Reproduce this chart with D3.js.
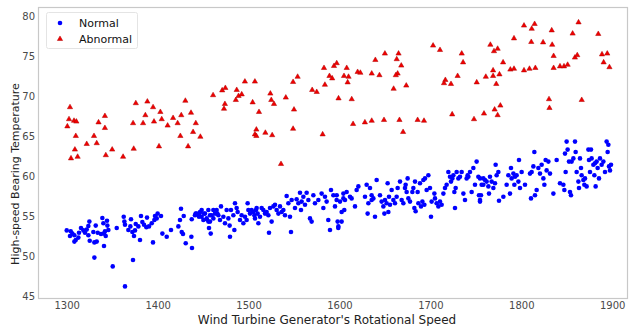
<!DOCTYPE html>
<html>
<head>
<meta charset="utf-8">
<script src="https://cdn.jsdelivr.net/npm/d3@7"></script>
<style>
  html, body { margin: 0; padding: 0; background: #fff; }
  svg { display: block; font-family: "DejaVu Sans", Verdana, sans-serif; }
</style>
</head>
<body>
<svg id="chart" width="638" height="326"></svg>
<script>
// Generator speed (rpm) and high-speed bearing temperature for normal operation
const normalSpeed = [
  1300.0,1304.4,1306.2,1303.6,1308.4,1309.9,1308.4,1312.8,1313.5,1315.7,1318.3,1320.1,1322.0,1323.8,1324.9,1323.8,1325.3,1329.3,1331.9,1330.4,
  1333.0,1334.1,1337.7,1339.2,1340.3,1341.0,1342.1,1344.3,1345.8,1342.9,1341.0,1344.7,1330.4,1350.6,1355.0,1362.7,1363.4,1364.1,1364.1,1367.8,
  1370.0,1370.7,1372.2,1375.1,1374.0,1375.9,1378.8,1380.6,1381.7,1383.2,1385.0,1387.6,1390.5,1388.3,1393.5,1396.4,1397.1,1399.0,1400.0,1403.7,
  1394.9,1372.9,1405.2,1410.0,1414.7,1422.8,1425.7,1424.6,1426.5,1427.9,1428.7,1430.9,1437.1,1437.8,1441.8,1444.8,1446.6,1448.4,
  1437.5,1441.1,1445.9,1451.0,1454.0,1457.6,1461.3,1465.7,1458.4,1455.8,
  1442.9,1445.5,1448.4,1450.3,1452.1,1453.9,1455.8,1457.6,1456.5,1459.4,1461.3,1463.1,1464.9,1466.8,1468.6,1469.7,1472.3,1474.1,1475.9,1477.8,
  1479.2,1479.6,1480.7,1483.3,1484.4,1485.1,1486.9,1488.0,1490.6,1492.4,1494.3,1496.1,1497.9,1499.0,1499.8,1501.6,1503.4,1505.3,1506.4,1507.1,
  1508.2,1508.9,1510.0,1510.8,1512.6,1514.4,1516.3,1518.1,1519.9,1521.8,1522.5,1523.6,1525.4,1527.3,1529.1,1530.9,1532.8,1534.6,1536.4,1538.3,
  1540.1,1541.9,1543.8,1545.6,1546.7,1547.4,1551.1,1552.9,1554.8,1556.6,1557.7,1558.4,1560.3,1562.1,1563.9,1565.8,1567.6,1569.4,1571.3,1573.1,
  1576.8,1580.4,1582.3,1584.1,1585.9,1587.7,1589.6,1590.7,1593.3,1595.1,1596.9,1598.7,1602.4,1604.3,1605.3,
  1597.0,1600.6,1602.4,1598.0,1598.8,1604.3,1606.1,1607.9,1611.6,1613.4,1617.1,1618.9,1620.8,1628.1,1629.9,1631.8,1631.0,1633.6,1635.4,1635.4,
  1637.3,1639.1,1640.9,1644.6,1646.4,1648.3,1649.4,1650.1,1651.9,1653.0,1653.8,1654.5,1655.6,1657.4,1659.3,1661.1,1662.9,1664.0,1666.6,1668.4,
  1670.3,1672.1,1672.8,1673.9,1675.0,1675.8,1677.6,1680.2,1681.3,1682.4,1683.1,1683.8,1686.0,1686.8,1688.6,1689.7,1691.2,1692.3,1693.4,1694.1,
  1695.9,1697.8,1699.6,1700.7,1701.4,1704.4,1705.1,1706.9,1708.8,1710.6,1712.4,1714.3,1716.1,1717.9,1719.8,1721.6,1722.7,1724.2,1725.3,1726.4,
  1727.1,1727.8,1728.9,1730.8,1732.6,1734.4,1736.3,1738.1,1739.9,1741.0,1741.8,1743.6,1745.4,1747.3,1749.1,1750.9,1752.8,1754.6,1755.7,1756.4,1758.3,
  1754.6,1753.5,1754.6,1758.3,1760.1,1761.9,1763.8,1764.5,1765.6,1767.4,1769.3,1771.1,1771.8,1772.9,1774.8,1775.5,1780.3,1783.9,1785.8,1787.6,
  1788.7,1789.4,1791.3,1792.4,1793.1,1794.9,1796.8,1797.5,1798.6,1800.4,1804.1,1809.6,1810.7,1811.4,1813.3,1814.4,1815.1,1816.9,1818.8,1820.6,
  1822.4,1824.3,1825.4,1826.8,1827.9,1829.8,1831.6,1835.3,1838.9,1842.6,1846.3,1847.4,1848.1,1848.8,1849.9,1851.0,1852.5,1853.6,1854.7,1855.4,
  1857.3,1859.1,1859.8,1860.9,1862.8,1863.5,1864.6,1865.7,1866.4,1868.3,1869.4,1870.1,1871.9,1873.8,1874.5,1875.6,1876.7,1877.4,1879.3,1880.4,
  1881.1,1881.8,1882.9,1884.0,1885.5,1886.6,1888.4,1890.3,1892.1,1893.9,1895.0,1895.8,1896.5,1897.6,1898.7
];
const normalTemp = [
  53.2,53.1,52.8,52.5,52.6,52.0,51.8,52.3,52.9,53.5,53.2,52.9,53.3,53.75,54.3,52.6,51.9,53.0,53.8,51.7,
  51.8,52.9,52.75,54.75,54.1,52.8,53.1,54.4,53.25,52.5,51.25,53.8,49.8,48.7,53.5,54.9,54.3,53.9,46.2,53.25,
  53.7,54.6,53.0,53.2,52.5,54.0,53.7,52.0,55.0,54.25,53.9,53.6,53.7,54.8,54.1,54.5,55.0,54.7,55.3,55.0,
  51.7,49.5,52.8,52.4,53.25,53.7,55.9,54.5,53.0,52.75,55.0,51.6,52.4,51.0,55.3,55.1,55.5,54.9,
  54.6,55.1,55.3,55.3,54.6,55.1,55.75,55.3,52.8,54.3,
  55.3,54.9,55.75,54.5,55.3,54.7,55.75,54.3,53.5,55.1,54.7,55.3,55.75,55.1,54.5,56.2,54.9,54.1,55.75,54.7,
  53.8,52.4,55.75,55.1,53.25,56.6,56.0,55.5,54.5,55.1,54.1,54.9,54.5,56.6,55.75,55.3,55.75,55.5,55.1,54.7,
  55.75,56.0,55.3,54.1,54.9,56.0,55.75,55.3,55.5,55.1,52.9,56.0,54.3,56.2,56.4,55.75,55.3,56.2,55.5,55.75,
  55.1,57.5,56.6,54.9,53.0,57.0,56.0,57.1,56.6,57.9,55.75,56.8,57.4,56.4,57.9,57.0,54.7,54.3,57.6,56.6,
  57.0,57.8,56.0,57.4,56.8,54.5,53.25,58.25,57.6,56.2,57.0,53.5,54.3,57.2,55.75,
  57.6,56.8,55.5,54.3,53.7,57.8,57.0,58.0,57.4,57.2,56.2,58.25,58.7,57.4,58.9,56.6,55.3,58.5,57.6,57.0,
  57.2,54.9,59.5,57.6,56.8,56.2,55.3,57.0,56.6,59.1,55.5,57.4,56.4,58.25,57.0,56.6,57.4,58.5,59.3,57.0,
  56.6,58.5,58.9,58.0,59.7,57.2,56.8,58.0,58.5,56.0,59.3,55.6,58.0,56.6,59.1,56.2,56.8,59.5,56.4,59.7,
  58.25,60.1,58.5,54.9,56.8,57.8,57.2,56.6,56.2,56.8,56.4,57.8,58.5,58.9,60.5,59.9,59.3,59.7,60.1,58.0,
  56.0,58.5,60.5,59.7,59.9,60.5,57.8,57.0,59.7,60.1,59.9,60.5,58.0,61.0,58.9,61.8,59.9,57.0,57.6,58.9,59.7,
  59.7,57.6,56.8,58.9,59.5,59.3,58.7,57.8,59.9,59.3,58.5,59.1,61.4,60.1,60.5,56.9,57.4,58.9,60.1,57.8,
  61.0,59.7,60.3,58.9,59.9,60.1,59.3,62.0,58.5,60.5,58.9,60.3,57.2,60.5,61.2,63.0,57.6,58.25,61.0,60.3,
  61.4,59.7,58.9,62.0,60.7,61.8,60.3,57.8,62.0,59.1,58.9,58.25,62.8,60.5,64.3,63.3,61.8,58.0,57.6,61.8,
  62.2,64.3,63.0,60.5,59.3,58.5,62.2,61.0,60.1,59.5,58.9,59.7,58.7,63.3,62.0,60.5,63.3,62.2,61.4,60.1,
  61.6,58.7,61.8,61.0,59.7,62.2,61.4,61.8,60.5,64.3,63.0,63.9,61.2,60.7,61.4
];

// Readings flagged as abnormal
const abnormalSpeed = [
  1303.6,1302.5,1308.0,1310.6,1300.7,1310.0,1309.0,1304.7,1312.0,1322.0,1330.0,1333.0,1335.0,1342.0,1342.0,1343.0,1350.0,1362.0,1373.7,1373.0,
  1376.0,1384.0,1386.5,1388.7,1395.0,1396.0,1401.5,1403.0,1404.5,1411.0,1417.0,1422.0,1425.0,1426.0,1430.5,1433.5,1436.7,1439.0,1442.0,1447.0,
  1461.0,1471.0,1474.5,1474.0,1473.0,1487.0,1489.0,1486.0,1492.5,1496.0,1507.0,1504.5,1511.5,1508.6,1507.0,1508.6,1518.5,1526.0,1524.0,1525.0,
  1528.0,1535.7,1541.0,1549.0,1554.0,1550.0,1549.0,1570.0,1575.0,1584.0,1583.0,1589.0,1592.0,1594.0,1597.0,1599.0,1581.5,
  1608.0,1605.0,1610.0,1609.0,1613.5,1620.0,1623.0,1635.5,1639.5,1650.0,1644.0,1665.0,1663.0,1668.0,1664.0,1662.0,1659.6,1673.5,1615.0,1628.0,
  1635.5,1649.0,1666.0,1670.0,1686.0,1693.0,1703.0,1710.6,1716.5,1715.0,1722.7,1730.0,1734.5,1736.0,1724.0,1748.0,1751.0,1759.0,1761.0,1766.0,
  1770.0,1774.0,1769.0,1769.0,1776.0,1772.5,1770.7,1777.0,1774.0,1780.0,1788.0,1792.0,1792.0,1803.0,1811.5,1814.7,1811.0,1803.0,1809.0,1815.5,
  1824.0,1833.5,1834.0,1835.6,1835.6,1830.5,1831.0,1842.6,1847.0,1851.0,1856.5,1863.0,1859.0,1861.6,1866.5,1884.7,1888.8,1894.6,1890.6,1897.0
];
const abnormalTemp = [
  68.6,67.1,66.9,66.8,66.2,65.0,63.3,62.2,62.4,64.0,65.0,64.1,66.7,67.5,66.0,62.6,63.3,62.4,63.4,66.6,
  69.1,66.6,67.6,69.3,68.6,66.8,63.7,68.0,67.1,66.3,67.25,66.6,65.0,67.6,69.4,63.7,67.9,65.5,66.6,64.9,
  70.1,70.7,71.0,69.0,68.4,70.75,70.0,69.5,70.2,71.8,71.8,69.2,68.0,65.8,65.2,65.0,65.4,65.1,70.3,69.5,
  69.0,61.5,69.8,71.75,72.4,68.3,65.9,70.75,70.5,71.4,73.5,72.5,72.2,73.75,74.1,69.7,65.2,
  73.5,72.5,72.4,71.7,69.6,73.0,72.9,72.8,74.5,75.3,72.6,75.3,74.6,73.8,72.8,72.6,70.9,71.3,66.5,66.7,
  66.9,67.0,67.0,65.5,67.0,66.9,76.3,75.75,72.0,71.6,71.5,72.5,75.3,74.2,67.7,67.1,71.7,67.8,72.4,76.4,
  75.6,75.9,73.2,72.5,72.7,71.5,68.3,68.8,67.6,74.2,73.3,73.4,77.2,78.8,78.4,79.0,76.75,73.2,73.4,73.5,
  76.7,78.2,76.4,75.0,73.5,69.6,68.5,73.7,73.7,73.9,77.8,79.2,74.8,75.1,69.5,77.75,75.2,75.3,74.2,73.6
];

const xTicks = [1300, 1400, 1500, 1600, 1700, 1800, 1900];
const yTicks = [45, 50, 55, 60, 65, 70, 75, 80];

const normal = normalSpeed.map((s, i) => ({ speed: s, temp: normalTemp[i] }));
const abnormal = abnormalSpeed.map((s, i) => ({ speed: s, temp: abnormalTemp[i] }));

const frame = { left: 38, right: 628, top: 7, bottom: 299 };

const x = d3.scaleLinear().domain([1268.4, 1917.4]).range([frame.left, frame.right]);
const y = d3.scaleLinear().domain([44.625, 81.125]).range([frame.bottom, frame.top]);

const svg = d3.select("#chart");

// Axes: labels only, no tick marks
const xAxis = svg.append("g")
  .attr("transform", `translate(0,${frame.bottom})`)
  .call(d3.axisBottom(x).tickValues(xTicks).tickFormat(d3.format("d")).tickSize(0).tickPadding(3));
const yAxis = svg.append("g")
  .attr("transform", `translate(${frame.left},0)`)
  .call(d3.axisLeft(y).tickValues(yTicks).tickFormat(d3.format("d")).tickSize(0).tickPadding(3));

[xAxis, yAxis].forEach(g => {
  g.select(".domain").remove();
  g.selectAll("text")
    .attr("fill", "#4a4a4a")
    .style("font-size", "10px")
    .style("font-family", "'DejaVu Sans', Verdana, sans-serif");
});

// Frame around the plotting area
svg.append("rect")
  .attr("x", frame.left + 0.5)
  .attr("y", frame.top + 0.5)
  .attr("width", frame.right - frame.left - 1)
  .attr("height", frame.bottom - frame.top - 1)
  .attr("fill", "none")
  .attr("stroke", "#c8c8c8")
  .attr("stroke-width", 1.2);

// Points
svg.append("g").selectAll("circle")
  .data(normal)
  .join("circle")
  .attr("cx", d => x(d.speed))
  .attr("cy", d => y(d.temp))
  .attr("r", 2.3)
  .attr("fill", "#0000ff");

const tri = d3.symbol().type(d3.symbolTriangle).size(12);
svg.append("g").selectAll("path")
  .data(abnormal)
  .join("path")
  .attr("d", tri)
  .attr("transform", d => `translate(${x(d.speed)},${y(d.temp)})`)
  .attr("fill", "#f00000")
  .attr("stroke", "#b00000")
  .attr("stroke-width", 0.5);

// Legend
const legend = svg.append("g");
legend.append("rect")
  .attr("x", 46.5).attr("y", 12.5)
  .attr("width", 91).attr("height", 36)
  .attr("rx", 2)
  .attr("fill", "#fff").attr("fill-opacity", 0.8)
  .attr("stroke", "#e4e4e4");
legend.append("circle").attr("cx", 60).attr("cy", 23).attr("r", 2.3).attr("fill", "#0000ff");
legend.append("path").attr("d", tri).attr("transform", "translate(60,39)")
  .attr("fill", "#f00000").attr("stroke", "#b00000").attr("stroke-width", 0.5);
legend.append("text").attr("x", 79).attr("y", 27).text("Normal")
  .attr("fill", "#111").style("font-size", "11px");
legend.append("text").attr("x", 79).attr("y", 43).text("Abnormal")
  .attr("fill", "#111").style("font-size", "11px");

// Axis titles
svg.append("text")
  .attr("x", 327)
  .attr("y", 324)
  .attr("text-anchor", "middle")
  .attr("fill", "#222")
  .style("font-size", "12px")
  .text("Wind Turbine Generator's Rotational Speed");

svg.append("text")
  .attr("transform", "translate(19,174) rotate(-90)")
  .attr("text-anchor", "middle")
  .attr("fill", "#222")
  .style("font-size", "11px")
  .text("High-speed Bearing Temperature");
</script>
</body>
</html>
